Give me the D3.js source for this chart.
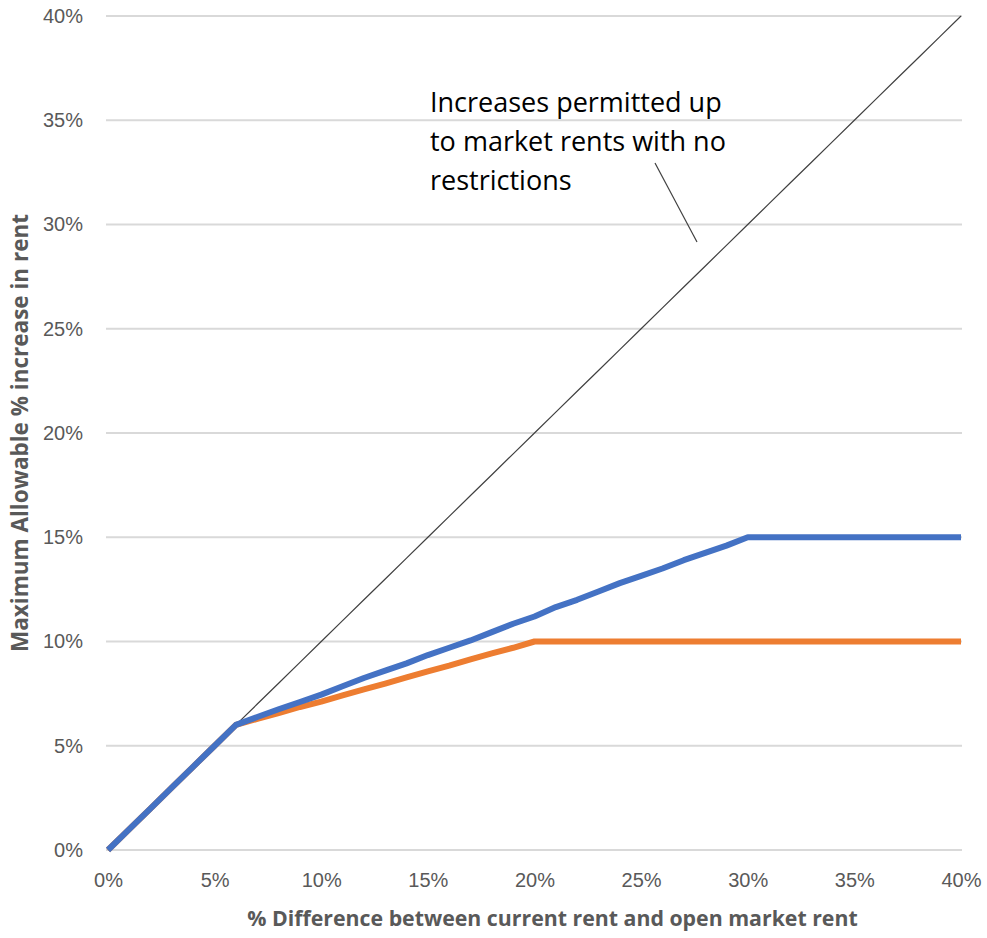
<!DOCTYPE html>
<html>
<head>
<meta charset="utf-8">
<script src="https://cdn.jsdelivr.net/npm/d3@7"></script>
<style>
  body { margin: 0; background: #fff; }
  svg { display: block; font-family: "Open Sans", "Liberation Sans", sans-serif; }
</style>
</head>
<body>
<svg id="chart" width="987" height="938"></svg>
<script>
// % difference between current rent and open market rent (x, in %)
const diffPct = d3.range(0, 41);

// Maximum allowable increase, 15% cap scheme (blue)
const capHigh = [0, 1, 2, 3, 4, 5, 6,
  6.38, 6.75, 7.1, 7.45, 7.85, 8.25, 8.6, 8.95, 9.35, 9.7, 10.05, 10.45, 10.85, 11.2,
  11.65, 12.0, 12.4, 12.8, 13.15, 13.5, 13.9, 14.25, 14.6, 15.0,
  15, 15, 15, 15, 15, 15, 15, 15, 15, 15];

// Maximum allowable increase, 10% cap scheme (orange)
const capLow = [0, 1, 2, 3, 4, 5, 6,
  6.29, 6.57, 6.86, 7.12, 7.42, 7.7, 7.98, 8.28, 8.57, 8.84, 9.14, 9.43, 9.7, 10.0,
  10, 10, 10, 10, 10, 10, 10, 10, 10, 10,
  10, 10, 10, 10, 10, 10, 10, 10, 10, 10];

// Unrestricted: increases allowed all the way to market rent
const unrestricted = diffPct.slice();

const xTicks = [0, 5, 10, 15, 20, 25, 30, 35, 40];
const yTicks = [0, 5, 10, 15, 20, 25, 30, 35, 40];

const annotationLines = ["Increases permitted up", "to market rents with no", "restrictions"];

const svg = d3.select("#chart");
const margin = { left: 108, right: 26, top: 16, bottom: 88 };
const W = 987, H = 938;

const x = d3.scaleLinear().domain([0, 40]).range([margin.left, W - margin.right]);
const y = d3.scaleLinear().domain([0, 40]).range([H - margin.bottom, margin.top]);

// Horizontal gridlines
svg.append("g")
  .selectAll("line")
  .data(yTicks)
  .join("line")
  .attr("x1", x(0) - 2)
  .attr("x2", x(40) + 1)
  .attr("y1", d => y(d))
  .attr("y2", d => y(d))
  .attr("stroke", "#d9d9d9")
  .attr("stroke-width", 2);

// Y axis tick labels
const yAxis = svg.append("g")
  .attr("transform", `translate(${x(0) - 22},0)`)
  .call(d3.axisLeft(y).tickValues(yTicks).tickFormat(d => d + "%").tickSize(0));
yAxis.select(".domain").remove();
yAxis.selectAll("text")
  .attr("fill", "#595959")
  .attr("font-size", 20)
  .attr("dx", 0);

// X axis tick labels
const xAxis = svg.append("g")
  .attr("transform", `translate(0,${y(0) + 20})`)
  .call(d3.axisBottom(x).tickValues(xTicks).tickFormat(d => d + "%").tickSize(0));
xAxis.select(".domain").remove();
xAxis.selectAll("text")
  .attr("fill", "#595959")
  .attr("font-size", 20)
  .attr("dy", "0.71em");

// Axis titles
svg.append("text")
  .attr("x", (x(0) + x(40)) / 2 + 18)
  .attr("y", 926)
  .attr("text-anchor", "middle")
  .attr("font-size", 21.3)
  .attr("font-weight", "bold")
  .attr("fill", "#595959")
  .text("% Difference between current rent and open market rent");

svg.append("text")
  .attr("transform", `translate(28,${(y(0) + y(40)) / 2}) rotate(-90)`)
  .attr("text-anchor", "middle")
  .attr("font-size", 22.5)
  .attr("font-weight", "bold")
  .attr("fill", "#595959")
  .text("Maximum Allowable % increase in rent");

const line = d3.line()
  .x((d, i) => x(diffPct[i]))
  .y(d => y(d));

// Thin unrestricted line
svg.append("path")
  .datum(unrestricted)
  .attr("d", line)
  .attr("fill", "none")
  .attr("stroke", "#404040")
  .attr("stroke-width", 1.2);

// Orange series
svg.append("path")
  .datum(capLow)
  .attr("d", line)
  .attr("fill", "none")
  .attr("stroke", "#ED7D31")
  .attr("stroke-width", 6)
  .attr("stroke-linejoin", "round");

// Blue series
svg.append("path")
  .datum(capHigh)
  .attr("d", line)
  .attr("fill", "none")
  .attr("stroke", "#4472C4")
  .attr("stroke-width", 6)
  .attr("stroke-linejoin", "round");

// Annotation
const ann = svg.append("text")
  .attr("font-size", 27)
  .attr("fill", "#000");
annotationLines.forEach((t, i) => {
  ann.append("tspan")
    .attr("x", 430)
    .attr("y", 112 + i * 39)
    .text(t);
});

svg.append("line")
  .attr("x1", 655).attr("y1", 163)
  .attr("x2", 697).attr("y2", 242)
  .attr("stroke", "#404040")
  .attr("stroke-width", 1.2);
</script>
</body>
</html>
